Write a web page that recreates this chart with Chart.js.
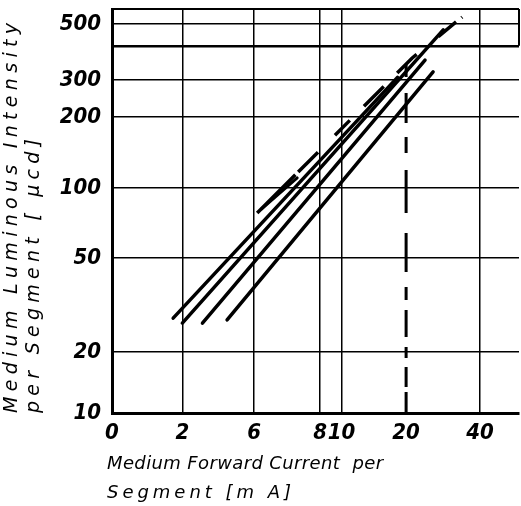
<!DOCTYPE html>
<html>
<head>
<meta charset="utf-8">
<script src="https://cdn.jsdelivr.net/npm/chart.js@4"></script>
<style>
  html, body { margin: 0; padding: 0; background: #fff; }
</style>
</head>
<body>
<canvas id="chart" width="521" height="506"></canvas>
<script>
// Axis ranges (log-log)
const xMin = 0.97, xMax = 63.9;     // forward current, mA
const yMin = 10, yMax = 624;        // luminous intensity, µcd

// Grid positions and the printed tick labels
const xTickValues = [0.97, 2, 4.19, 8.26, 10.3, 20, 42.8];
const xTickLabels = ['0', '2', '6', '8', '10', '20', '40'];
const yTickValues = [10, 18.7, 48.8, 100, 207, 302, 428, 535, 624];
const yTickLabels = ['10', '20', '50', '100', '200', '300', '', '500', ''];
const yHeavyLine = 428;

// Characteristic lines: forward current (mA) vs intensity (µcd)
const curveACurrent   = [1.82, 18.3];
const curveAIntensity = [26.4, 310];
const curveBCurrent   = [2.0, 29.3];
const curveBIntensity = [25.1, 504];
const curveCCurrent   = [2.46, 24.3];
const curveCIntensity = [25.1, 370];
const curveDCurrent   = [3.17, 26.4];
const curveDIntensity = [25.9, 328];

// Dashed upper limit, with its doubled first stroke
const limitCurrent   = [4.32, 21.3, 35.6];
const limitIntensity = [77.4, 378, 575];
const limitLeadCurrent   = [4.51, 6.52];
const limitLeadIntensity = [80.6, 110.8];

// Dashed marker at the rated current
const ratedCurrent   = [20, 20];
const ratedIntensity = [10, 363];

// Axis titles
const xTitleLines = ['Medium Forward Current  per', 'Segment [m A]'];
const yTitleLines = ['Medium Luminous Intensity', 'per Segment [ μcd]'];

const pairs = (xs, ys) => xs.map((x, i) => ({ x, y: ys[i] }));

const solid = (xs, ys) => ({
  data: pairs(xs, ys),
  borderColor: '#000',
  borderWidth: 3.5,
  borderCapStyle: 'round',
  pointRadius: 0,
  fill: false,
  tension: 0
});

const tickFont = {
  family: '"DejaVu Sans Condensed", "DejaVu Sans", sans-serif',
  size: 22, weight: 'bold', style: 'italic'
};
const xTitleFont = 'italic 18px "DejaVu Sans", sans-serif';
const yTitleFont = 'italic 19px "DejaVu Sans", sans-serif';

// Writes a line of lettering stretched by letter spacing to a given run length
function spacedText(ctx, text, x, y, runLength) {
  ctx.letterSpacing = '0px';
  const natural = ctx.measureText(text).width;
  const gap = Math.max(0, (runLength - natural) / Math.max(1, text.length - 1));
  ctx.letterSpacing = gap.toFixed(2) + 'px';
  ctx.fillText(text, x, y);
  ctx.letterSpacing = '0px';
}

// Draws the axis titles and the short right frame edge
const frameAndTitles = {
  id: 'frameAndTitles',
  afterDraw(chart) {
    const { ctx, chartArea, scales } = chart;
    ctx.save();
    ctx.strokeStyle = '#000';
    ctx.lineWidth = 2;
    ctx.beginPath();
    ctx.moveTo(chartArea.right, chartArea.top);
    ctx.lineTo(chartArea.right, scales.y.getPixelForValue(yHeavyLine));
    ctx.stroke();

    ctx.fillStyle = '#000';
    ctx.textBaseline = 'middle';
    ctx.textAlign = 'left';

    ctx.font = yTitleFont;
    const yOffsets = [100, 78];
    const yRuns = [390, 274];
    yTitleLines.forEach((text, i) => {
      ctx.save();
      ctx.translate(chartArea.left - yOffsets[i], chartArea.bottom);
      ctx.rotate(-Math.PI / 2);
      spacedText(ctx, text, 0, 0, yRuns[i]);
      ctx.restore();
    });

    ctx.font = xTitleFont;
    const xOffsets = [51, 80];
    const xRuns = [276, 184];
    xTitleLines.forEach((text, i) => {
      spacedText(ctx, text, chartArea.left - 5, chartArea.bottom + xOffsets[i], xRuns[i]);
    });
    ctx.restore();
  }
};

new Chart(document.getElementById('chart'), {
  type: 'line',
  data: {
    datasets: [
      solid(curveACurrent, curveAIntensity),
      solid(curveBCurrent, curveBIntensity),
      solid(curveCCurrent, curveCIntensity),
      solid(curveDCurrent, curveDIntensity),
      Object.assign(solid(limitCurrent, limitIntensity), {
        borderDash: [54, 4, 28, 24, 21, 20, 28, 19, 27, 28, 23, 7, 9, 20],
        borderCapStyle: 'butt'
      }),
      Object.assign(solid(limitLeadCurrent, limitLeadIntensity), { borderWidth: 3 }),
      Object.assign(solid(ratedCurrent, ratedIntensity), {
        borderWidth: 3,
        borderCapStyle: 'butt',
        borderDash: [21, 5, 20, 9, 11, 10, 27, 10, 13, 15, 39, 20, 43, 17, 16, 14, 30, 16, 12, 10]
      })
    ]
  },
  options: {
    responsive: false,
    animation: false,
    devicePixelRatio: 1,
    layout: { padding: { left: 0, top: 0, right: 2, bottom: 0 } },
    plugins: { legend: { display: false }, tooltip: { enabled: false } },
    scales: {
      x: {
        type: 'logarithmic',
        min: xMin, max: xMax,
        afterBuildTicks: s => { s.ticks = xTickValues.map(v => ({ value: v })); },
        afterFit: s => { s.height = 93; s.paddingLeft = 0; s.paddingRight = 0; },
        ticks: {
          autoSkip: false, maxRotation: 0, minRotation: 0, padding: 7,
          color: '#000', font: tickFont,
          callback: (v, i) => xTickLabels[i]
        },
        grid: {
          drawTicks: false,
          lineWidth: 1.5,
          color: c => (c.tick && c.tick.value === ratedCurrent[0]) ? 'rgba(0,0,0,0)' : '#000'
        },
        border: { display: true, color: '#000', width: 3 }
      },
      y: {
        type: 'logarithmic',
        min: yMin, max: yMax,
        afterBuildTicks: s => { s.ticks = yTickValues.map(v => ({ value: v })); },
        afterFit: s => { s.width = 112; s.paddingTop = 9; s.paddingBottom = 0; },
        ticks: {
          autoSkip: false, padding: 11,
          color: '#000', font: tickFont,
          callback: (v, i) => yTickLabels[i]
        },
        grid: {
          drawTicks: false,
          color: '#000',
          lineWidth: c => {
            const v = c.tick ? c.tick.value : 0;
            if (v === yHeavyLine) return 2.5;
            if (v === yMax) return 2;
            return 1.5;
          }
        },
        border: { display: true, color: '#000', width: 3 }
      }
    }
  },
  plugins: [frameAndTitles]
});
</script>
</body>
</html>
